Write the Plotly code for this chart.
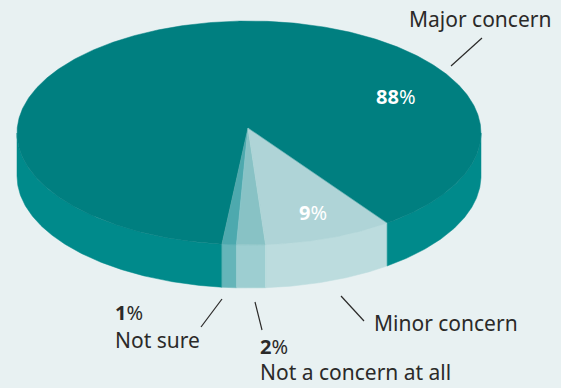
import numpy as np
import plotly.graph_objects as go

# Survey answers, clockwise from the front-right edge of the pie
labels = ["Minor concern", "Not a concern at all", "Not sure", "Major concern"]
values = [9, 2, 1, 88]

top_colors = ["#AFD4D7", "#88C2C5", "#4DA9AE", "#007F80"]
side_colors = ["#BCDCDE", "#9DCED1", "#65B5B9", "#008A8B"]

BG = "#E8F1F2"

# Elliptical projection of the disc (pixel space)
CX, CY, RX, RY, DEPTH = 249, 133, 232, 112, 43
APEX = (248, 128)   # slices meet slightly behind the rim's centre
START = 53.5        # degrees, clockwise on screen from the right


def arc(a0, a1, dz=0.0):
    n = max(4, int(abs(a1 - a0) * 2))
    t = np.radians(np.linspace(a0, a1, n))
    return CX + RX * np.cos(t), CY + RY * np.sin(t) + dz


fig = go.Figure()

total = float(sum(values))
spans = []
a = START
for v in values:
    da = 360.0 * v / total
    spans.append((a, a + da))
    a += da

# Side walls: only the front half (0..180 deg on screen) is visible
for (a0, a1), col in zip(spans, side_colors):
    for shift in (0.0, 360.0):
        lo, hi = max(a0 - shift, 0.0), min(a1 - shift, 180.0)
        if hi <= lo:
            continue
        xt, yt = arc(lo, hi)
        xb, yb = arc(hi, lo, DEPTH)
        fig.add_trace(go.Scatter(
            x=np.concatenate([xt, xb, xt[:1]]),
            y=np.concatenate([yt, yb, yt[:1]]),
            mode="lines", fill="toself", fillcolor=col,
            line=dict(width=0.5, color=col),
            hoverinfo="skip", showlegend=False))

# Top faces
for (a0, a1), col, name in zip(spans, top_colors, labels):
    xs, ys = arc(a0, a1)
    fig.add_trace(go.Scatter(
        x=np.concatenate([[APEX[0]], xs, [APEX[0]]]),
        y=np.concatenate([[APEX[1]], ys, [APEX[1]]]),
        mode="lines", fill="toself", fillcolor=col,
        line=dict(width=0.5, color=col),
        name=name, hoverinfo="skip", showlegend=False))

# Faint light seams between the small slices
for a0, _ in spans:
    xr, yr = arc(a0, a0 + 0.01)
    if 0 <= a0 % 360 <= 180:
        fig.add_trace(go.Scatter(
            x=[APEX[0], xr[0], xr[0]], y=[APEX[1], yr[0], yr[0] + DEPTH],
            mode="lines", line=dict(width=0.8, color="rgba(255,255,255,0.3)"),
            hoverinfo="skip", showlegend=False))

FONT = "Noto Sans"
TXT = "#2B2A29"


def note(x, y, text, size=21, color=TXT, xanchor="left", yanchor="middle"):
    fig.add_annotation(x=x, y=y, text=text, showarrow=False,
                       xanchor=xanchor, yanchor=yanchor,
                       font=dict(family=FONT, size=size, color=color))


# In-slice percentages
note(396, 96, "<b>88</b>%", size=20, color="white", xanchor="center")
note(313, 212, "<b>9</b>%", size=20, color="white", xanchor="center")

# Outside labels
note(480, 19, labels[3], xanchor="center")
note(372, 323, labels[0])
note(113, 312, "<b>1</b>%", size=20)
note(113, 340, labels[2])
note(258, 346, "<b>2</b>%", size=20)
note(258, 388, labels[1], yanchor="bottom")

# Leader lines
for x0, y0, x1, y1 in [(451, 66, 482, 38), (341, 296, 364, 321),
                       (222, 299, 201, 327), (255, 302, 262, 330)]:
    fig.add_shape(type="line", x0=x0, y0=y0, x1=x1, y1=y1,
                  line=dict(color=TXT, width=1.2))

fig.update_layout(
    width=561, height=388,
    margin=dict(l=0, r=0, t=0, b=0),
    paper_bgcolor=BG, plot_bgcolor=BG,
    xaxis=dict(range=[0, 561], visible=False, fixedrange=True),
    yaxis=dict(range=[388, 0], visible=False, fixedrange=True),
)

fig.write_html("out.html")
